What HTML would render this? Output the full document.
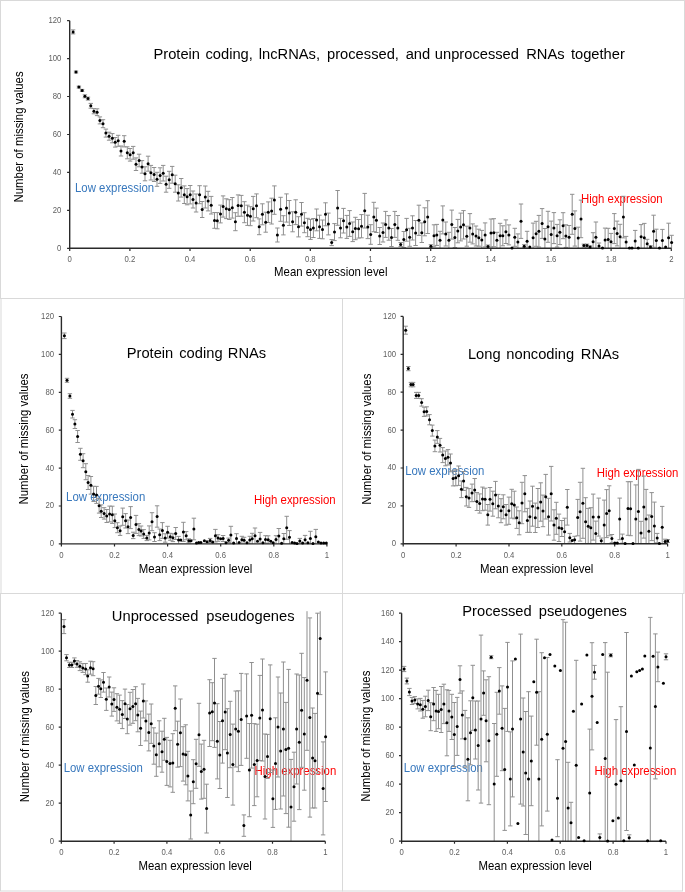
<!DOCTYPE html>
<html><head><meta charset="utf-8"><style>
html,body{margin:0;padding:0;background:#fff;width:685px;height:892px;overflow:hidden}
svg{display:block;font-family:'Liberation Sans', sans-serif;-webkit-font-smoothing:antialiased}
body{will-change:transform}
</style></head><body>
<svg width="685" height="892" viewBox="0 0 685 892">
<defs><filter id="bl" x="0" y="0" width="1" height="1"><feGaussianBlur stdDeviation="0.5"/></filter></defs>
<g filter="url(#bl)">
<rect width="685" height="892" fill="#fff"/>
<g fill="none" stroke="#d9d9d9" stroke-width="1">
<rect x="0.5" y="0.5" width="684" height="298" />
<rect x="1" y="298.5" width="341.5" height="295" />
<rect x="342.5" y="298.5" width="341.5" height="295" />
<rect x="0.5" y="593.5" width="342" height="297.5" />
<rect x="342.5" y="593.5" width="340" height="297.5" />
</g>
<text transform="translate(153.49,58.50) scale(1,1.04)" font-size="14.7" fill="#000" text-anchor="start" >Protein</text>
<text transform="translate(205.48,58.50) scale(1,1.04)" font-size="14.7" fill="#000" text-anchor="start" >coding,</text>
<text transform="translate(258.81,58.50) scale(1,1.04)" font-size="14.7" fill="#000" text-anchor="start" >lncRNAs,</text>
<text transform="translate(327.05,58.50) scale(1,1.04)" font-size="14.7" fill="#000" text-anchor="start" >processed,</text>
<text transform="translate(405.68,58.50) scale(1,1.04)" font-size="14.7" fill="#000" text-anchor="start" >and</text>
<text transform="translate(434.84,58.50) scale(1,1.04)" font-size="14.7" fill="#000" text-anchor="start" >unprocessed</text>
<text transform="translate(526.19,58.50) scale(1,1.04)" font-size="14.7" fill="#000" text-anchor="start" >RNAs</text>
<text transform="translate(570.88,58.50) scale(1,1.04)" font-size="14.7" fill="#000" text-anchor="start" >together</text>
<text transform="translate(74.97,192.10) scale(1,1.04)" font-size="11.4" fill="#3878bd" text-anchor="start" >Low expression</text>
<text transform="translate(580.97,202.80) scale(1,1.04)" font-size="11.4" fill="#ff0000" text-anchor="start" >High expression</text>
<text x="0" y="0" font-size="11.4" fill="#000" text-anchor="middle" transform="translate(23.2,136.9) rotate(-90) scale(1,1.04)">Number of missing values</text>
<text transform="translate(274.07,276.40) scale(1,1.04)" font-size="11.4" fill="#000" text-anchor="start" >Mean expression level</text>
<text transform="translate(61.4,250.7) scale(0.88,1)" font-size="8.8" fill="#606060" text-anchor="end">0</text>
<text transform="translate(61.4,212.8) scale(0.88,1)" font-size="8.8" fill="#606060" text-anchor="end">20</text>
<text transform="translate(61.4,174.8) scale(0.88,1)" font-size="8.8" fill="#606060" text-anchor="end">40</text>
<text transform="translate(61.4,136.9) scale(0.88,1)" font-size="8.8" fill="#606060" text-anchor="end">60</text>
<text transform="translate(61.4,98.9) scale(0.88,1)" font-size="8.8" fill="#606060" text-anchor="end">80</text>
<text transform="translate(61.4,61.0) scale(0.88,1)" font-size="8.8" fill="#606060" text-anchor="end">100</text>
<text transform="translate(61.4,23.1) scale(0.88,1)" font-size="8.8" fill="#606060" text-anchor="end">120</text>
<text transform="translate(69.7,262.3) scale(0.88,1)" font-size="8.8" fill="#606060" text-anchor="middle">0</text>
<text transform="translate(129.9,262.3) scale(0.88,1)" font-size="8.8" fill="#606060" text-anchor="middle">0.2</text>
<text transform="translate(190.0,262.3) scale(0.88,1)" font-size="8.8" fill="#606060" text-anchor="middle">0.4</text>
<text transform="translate(250.2,262.3) scale(0.88,1)" font-size="8.8" fill="#606060" text-anchor="middle">0.6</text>
<text transform="translate(310.3,262.3) scale(0.88,1)" font-size="8.8" fill="#606060" text-anchor="middle">0.8</text>
<text transform="translate(370.5,262.3) scale(0.88,1)" font-size="8.8" fill="#606060" text-anchor="middle">1</text>
<text transform="translate(430.7,262.3) scale(0.88,1)" font-size="8.8" fill="#606060" text-anchor="middle">1.2</text>
<text transform="translate(490.8,262.3) scale(0.88,1)" font-size="8.8" fill="#606060" text-anchor="middle">1.4</text>
<text transform="translate(551.0,262.3) scale(0.88,1)" font-size="8.8" fill="#606060" text-anchor="middle">1.6</text>
<text transform="translate(611.1,262.3) scale(0.88,1)" font-size="8.8" fill="#606060" text-anchor="middle">1.8</text>
<text transform="translate(671.3,262.3) scale(0.88,1)" font-size="8.8" fill="#606060" text-anchor="middle">2</text>
<path d="M73.1 29.9V33.9M70.9 29.9h4.4M70.9 33.9h4.4M76.0 71.0V73.0M73.8 71.0h4.4M73.8 73.0h4.4M78.9 86.1V88.1M76.7 86.1h4.4M76.7 88.1h4.4M82.1 89.4V91.4M79.9 89.4h4.4M79.9 91.4h4.4M84.9 94.8V97.8M82.7 94.8h4.4M82.7 97.8h4.4M88.0 97.1V100.1M85.8 97.1h4.4M85.8 100.1h4.4M90.8 103.4V108.2M88.6 103.4h4.4M88.6 108.2h4.4M93.9 108.6V113.8M91.7 108.6h4.4M91.7 113.8h4.4M97.1 108.8V115.6M94.9 108.8h4.4M94.9 115.6h4.4M99.9 116.9V123.9M97.7 116.9h4.4M97.7 123.9h4.4M103.0 119.7V127.7M100.8 119.7h4.4M100.8 127.7h4.4M105.9 129.1V137.1M103.7 129.1h4.4M103.7 137.1h4.4M109.1 132.2V140.2M106.9 132.2h4.4M106.9 140.2h4.4M112.3 133.6V142.8M110.1 133.6h4.4M110.1 142.8h4.4M115.2 137.5V147.1M113.0 137.5h4.4M113.0 147.1h4.4M118.2 135.3V146.3M116.0 135.3h4.4M116.0 146.3h4.4M121.0 146.0V156.0M118.8 146.0h4.4M118.8 156.0h4.4M124.2 135.7V146.9M122.0 135.7h4.4M122.0 146.9h4.4M127.3 146.8V158.8M125.1 146.8h4.4M125.1 158.8h4.4M130.1 148.5V161.1M127.9 148.5h4.4M127.9 161.1h4.4M133.2 146.4V159.2M131.0 146.4h4.4M131.0 159.2h4.4M136.0 157.9V170.5M133.8 157.9h4.4M133.8 170.5h4.4M139.1 154.2V166.8M136.9 154.2h4.4M136.9 166.8h4.4M142.0 160.6V173.2M139.8 160.6h4.4M139.8 173.2h4.4M145.0 166.8V180.8M142.8 166.8h4.4M142.8 180.8h4.4M148.1 156.2V171.2M145.9 156.2h4.4M145.9 171.2h4.4M150.9 165.4V180.0M148.7 165.4h4.4M148.7 180.0h4.4M154.1 167.5V181.5M151.9 167.5h4.4M151.9 181.5h4.4M157.0 172.3V186.3M154.8 172.3h4.4M154.8 186.3h4.4M160.1 167.8V183.4M157.9 167.8h4.4M157.9 183.4h4.4M163.2 165.4V181.0M161.0 165.4h4.4M161.0 181.0h4.4M166.1 176.2V192.2M163.9 176.2h4.4M163.9 192.2h4.4M169.2 171.3V188.3M167.0 171.3h4.4M167.0 188.3h4.4M172.2 166.4V183.2M170.0 166.4h4.4M170.0 183.2h4.4M175.2 175.2V192.2M173.0 175.2h4.4M173.0 192.2h4.4M178.3 184.8V201.0M176.1 184.8h4.4M176.1 201.0h4.4M181.2 178.5V197.1M179.0 178.5h4.4M179.0 197.1h4.4M184.3 185.9V203.5M182.1 185.9h4.4M182.1 203.5h4.4M187.1 188.6V204.8M184.9 188.6h4.4M184.9 204.8h4.4M190.2 185.5V203.9M188.0 185.5h4.4M188.0 203.9h4.4M193.0 191.0V208.0M190.8 191.0h4.4M190.8 208.0h4.4M196.1 194.0V212.0M193.9 194.0h4.4M193.9 212.0h4.4M199.6 185.7V203.7M197.4 185.7h4.4M197.4 203.7h4.4M202.2 201.5V217.5M200.0 201.5h4.4M200.0 217.5h4.4M205.3 186.0V208.0M203.1 186.0h4.4M203.1 208.0h4.4M208.1 191.3V210.9M205.9 191.3h4.4M205.9 210.9h4.4M211.2 196.4V214.0M209.0 196.4h4.4M209.0 214.0h4.4M214.5 212.5V228.3M212.3 212.5h4.4M212.3 228.3h4.4M217.3 212.6V228.8M215.1 212.6h4.4M215.1 228.8h4.4M220.5 205.1V222.9M218.3 205.1h4.4M218.3 222.9h4.4M223.1 195.9V217.1M220.9 195.9h4.4M220.9 217.1h4.4M226.3 198.8V218.6M224.1 198.8h4.4M224.1 218.6h4.4M229.3 199.7V219.5M227.1 199.7h4.4M227.1 219.5h4.4M232.3 197.5V218.1M230.1 197.5h4.4M230.1 218.1h4.4M235.4 212.7V230.7M233.2 212.7h4.4M233.2 230.7h4.4M238.1 194.9V216.3M235.9 194.9h4.4M235.9 216.3h4.4M241.3 195.4V216.2M239.1 195.4h4.4M239.1 216.2h4.4M244.4 201.7V222.7M242.2 201.7h4.4M242.2 222.7h4.4M247.5 205.2V225.4M245.3 205.2h4.4M245.3 225.4h4.4M250.4 206.7V225.7M248.2 206.7h4.4M248.2 225.7h4.4M253.2 196.4V221.0M251.0 196.4h4.4M251.0 221.0h4.4M256.5 193.9V217.7M254.3 193.9h4.4M254.3 217.7h4.4M259.2 218.9V234.7M257.0 218.9h4.4M257.0 234.7h4.4M262.4 203.8V224.8M260.2 203.8h4.4M260.2 224.8h4.4M265.7 212.2V232.2M263.5 212.2h4.4M263.5 232.2h4.4M268.3 201.9V222.5M266.1 201.9h4.4M266.1 222.5h4.4M271.6 198.2V224.0M269.4 198.2h4.4M269.4 224.0h4.4M274.4 185.9V214.3M272.2 185.9h4.4M272.2 214.3h4.4M277.4 228.0V242.0M275.2 228.0h4.4M275.2 242.0h4.4M280.6 197.3V221.3M278.4 197.3h4.4M278.4 221.3h4.4M283.4 215.7V234.9M281.2 215.7h4.4M281.2 234.9h4.4M286.5 193.9V222.1M284.3 193.9h4.4M284.3 222.1h4.4M289.3 200.5V225.5M287.1 200.5h4.4M287.1 225.5h4.4M292.6 211.8V231.8M290.4 211.8h4.4M290.4 231.8h4.4M295.7 199.8V224.6M293.5 199.8h4.4M293.5 224.6h4.4M298.5 216.7V236.9M296.3 216.7h4.4M296.3 236.9h4.4M301.5 202.5V226.1M299.3 202.5h4.4M299.3 226.1h4.4M304.4 212.7V232.7M302.2 212.7h4.4M302.2 232.7h4.4M307.6 218.3V236.7M305.4 218.3h4.4M305.4 236.7h4.4M310.5 219.4V239.4M308.3 219.4h4.4M308.3 239.4h4.4M313.4 218.5V237.5M311.2 218.5h4.4M311.2 237.5h4.4M316.6 209.0V230.8M314.4 209.0h4.4M314.4 230.8h4.4M319.5 215.2V238.4M317.3 215.2h4.4M317.3 238.4h4.4M322.5 220.0V238.8M320.3 220.0h4.4M320.3 238.8h4.4M325.5 202.8V225.8M323.3 202.8h4.4M323.3 225.8h4.4M328.4 213.1V234.9M326.2 213.1h4.4M326.2 234.9h4.4M331.7 239.6V245.6M329.5 239.6h4.4M329.5 245.6h4.4M334.5 223.6V240.6M332.3 223.6h4.4M332.3 240.6h4.4M337.6 190.5V225.3M335.4 190.5h4.4M335.4 225.3h4.4M340.5 218.4V237.8M338.3 218.4h4.4M338.3 237.8h4.4M343.5 208.4V233.0M341.3 208.4h4.4M341.3 233.0h4.4M346.8 215.4V238.4M344.6 215.4h4.4M344.6 238.4h4.4M349.6 210.6V236.4M347.4 210.6h4.4M347.4 236.4h4.4M352.7 222.0V241.6M350.5 222.0h4.4M350.5 241.6h4.4M355.4 217.3V239.7M353.2 217.3h4.4M353.2 239.7h4.4M358.6 219.5V238.1M356.4 219.5h4.4M356.4 238.1h4.4M361.5 214.6V237.8M359.3 214.6h4.4M359.3 237.8h4.4M364.7 193.4V228.0M362.5 193.4h4.4M362.5 228.0h4.4M367.8 215.2V238.6M365.6 215.2h4.4M365.6 238.6h4.4M370.7 224.7V244.3M368.5 224.7h4.4M368.5 244.3h4.4M373.8 202.3V231.7M371.6 202.3h4.4M371.6 231.7h4.4M376.4 208.1V232.5M374.2 208.1h4.4M374.2 232.5h4.4M379.7 227.5V244.5M377.5 227.5h4.4M377.5 244.5h4.4M383.0 223.0V242.0M380.8 223.0h4.4M380.8 242.0h4.4M385.6 211.4V237.4M383.4 211.4h4.4M383.4 237.4h4.4M388.8 215.6V240.2M386.6 215.6h4.4M386.6 240.2h4.4M391.5 228.5V246.5M389.3 228.5h4.4M389.3 246.5h4.4M394.8 211.4V237.4M392.6 211.4h4.4M392.6 237.4h4.4M397.8 215.5V240.3M395.6 215.5h4.4M395.6 240.3h4.4M400.7 242.5V246.5M398.5 242.5h4.4M398.5 246.5h4.4M403.8 231.5V247.5M401.6 231.5h4.4M401.6 247.5h4.4M406.6 218.4V241.2M404.4 218.4h4.4M404.4 241.2h4.4M409.7 228.3V246.3M407.5 228.3h4.4M407.5 246.3h4.4M412.5 215.8V240.0M410.3 215.8h4.4M410.3 240.0h4.4M415.6 220.5V245.5M413.4 220.5h4.4M413.4 245.5h4.4M418.9 205.2V235.4M416.7 205.2h4.4M416.7 235.4h4.4M421.8 222.9V242.5M419.6 222.9h4.4M419.6 242.5h4.4M424.7 207.8V235.8M422.5 207.8h4.4M422.5 235.8h4.4M427.7 200.7V233.5M425.5 200.7h4.4M425.5 233.5h4.4M430.9 244.7V247.7M428.7 244.7h4.4M428.7 247.7h4.4M434.0 224.8V246.8M431.8 224.8h4.4M431.8 246.8h4.4M436.8 224.4V245.4M434.6 224.4h4.4M434.6 245.4h4.4M440.0 231.3V248.3M437.8 231.3h4.4M442.8 205.9V233.9M440.6 205.9h4.4M440.6 233.9h4.4M445.8 222.0V246.0M443.6 222.0h4.4M443.6 246.0h4.4M448.9 232.3V248.3M446.7 232.3h4.4M451.8 210.1V239.1M449.6 210.1h4.4M449.6 239.1h4.4M454.9 227.5V247.5M452.7 227.5h4.4M452.7 247.5h4.4M457.8 219.4V242.8M455.6 219.4h4.4M455.6 242.8h4.4M460.7 213.1V240.9M458.5 213.1h4.4M458.5 240.9h4.4M463.5 210.6V239.0M461.3 210.6h4.4M461.3 239.0h4.4M466.8 226.2V246.2M464.6 226.2h4.4M464.6 246.2h4.4M469.9 213.6V242.2M467.7 213.6h4.4M467.7 242.2h4.4M472.7 223.9V243.9M470.5 223.9h4.4M470.5 243.9h4.4M476.0 226.0V246.0M473.8 226.0h4.4M473.8 246.0h4.4M478.8 229.2V246.2M476.6 229.2h4.4M476.6 246.2h4.4M481.8 230.4V248.3M479.6 230.4h4.4M485.1 222.9V246.9M482.9 222.9h4.4M482.9 246.9h4.4M488.0 245.0V248.0M485.8 245.0h4.4M491.0 219.0V247.0M488.8 219.0h4.4M488.8 247.0h4.4M493.8 218.7V246.7M491.6 218.7h4.4M491.6 246.7h4.4M496.9 232.3V248.3M494.7 232.3h4.4M500.1 223.3V248.3M497.9 223.3h4.4M502.8 225.8V245.8M500.6 225.8h4.4M500.6 245.8h4.4M505.9 219.9V243.5M503.7 219.9h4.4M503.7 243.5h4.4M508.9 224.9V244.9M506.7 224.9h4.4M506.7 244.9h4.4M514.8 228.3V246.3M512.6 228.3h4.4M512.6 246.3h4.4M517.9 233.9V248.3M515.7 233.9h4.4M521.0 204.0V238.4M518.8 204.0h4.4M518.8 238.4h4.4M524.2 244.7V247.7M522.0 244.7h4.4M522.0 247.7h4.4M527.1 231.3V248.3M524.9 231.3h4.4M533.1 223.1V248.3M530.9 223.1h4.4M536.1 221.3V246.3M533.9 221.3h4.4M533.9 246.3h4.4M538.9 215.4V247.0M536.7 215.4h4.4M536.7 247.0h4.4M542.1 208.6V238.4M539.9 208.6h4.4M539.9 238.4h4.4M544.9 228.5V248.3M542.7 228.5h4.4M548.0 211.3V242.3M545.8 211.3h4.4M545.8 242.3h4.4M551.2 221.1V247.9M549.0 221.1h4.4M553.9 212.6V243.6M551.7 212.6h4.4M551.7 243.6h4.4M557.1 224.4V247.0M554.9 224.4h4.4M554.9 247.0h4.4M559.9 219.8V244.6M557.7 219.8h4.4M557.7 244.6h4.4M563.1 212.7V238.7M560.9 212.7h4.4M560.9 238.7h4.4M565.9 224.8V247.4M563.7 224.8h4.4M563.7 247.4h4.4M569.1 225.5V248.3M566.9 225.5h4.4M572.2 194.3V234.3M570.0 194.3h4.4M570.0 234.3h4.4M574.9 210.9V246.1M572.7 210.9h4.4M572.7 246.1h4.4M578.2 227.2V248.3M576.0 227.2h4.4M581.0 200.1V237.7M578.8 200.1h4.4M578.8 237.7h4.4M583.9 244.1V247.1M581.7 244.1h4.4M581.7 247.1h4.4M587.0 244.1V247.1M584.8 244.1h4.4M584.8 247.1h4.4M590.1 245.9V247.9M587.9 245.9h4.4M593.1 232.7V248.3M590.9 232.7h4.4M595.9 222.0V248.3M593.7 222.0h4.4M599.0 243.0V248.3M596.8 243.0h4.4M605.1 228.1V248.3M602.9 228.1h4.4M608.2 228.3V248.3M606.0 228.3h4.4M611.0 233.4V248.3M608.8 233.4h4.4M614.3 213.6V243.6M612.1 213.6h4.4M612.1 243.6h4.4M617.1 221.1V245.9M614.9 221.1h4.4M614.9 245.9h4.4M620.1 224.3V248.3M617.9 224.3h4.4M623.4 196.3V237.9M621.2 196.3h4.4M621.2 237.9h4.4M626.1 236.4V247.8M623.9 236.4h4.4M635.2 230.4V248.3M633.0 230.4h4.4M641.1 224.6V248.3M638.9 224.6h4.4M644.3 223.4V248.3M642.1 223.4h4.4M647.2 239.3V248.1M645.0 239.3h4.4M650.5 245.7V248.3M648.3 245.7h4.4M653.6 215.2V247.2M651.4 215.2h4.4M651.4 247.2h4.4M656.3 229.2V248.3M654.1 229.2h4.4M662.4 229.4V248.3M660.2 229.4h4.4M668.6 223.2V248.3M666.4 223.2h4.4M671.6 235.3V248.3M669.4 235.3h4.4" stroke="#8f8f8f" stroke-width="1" fill="none"/>
<path d="M69.7 20.7V248.3H671.3" stroke="#2b2b2b" stroke-width="1.4" fill="none"/>
<path d="M67.1 248.3H69.7M67.1 210.4H69.7M67.1 172.4H69.7M67.1 134.5H69.7M67.1 96.5H69.7M67.1 58.6H69.7M67.1 20.7H69.7M69.7 248.3V250.9M129.9 248.3V250.9M190.0 248.3V250.9M250.2 248.3V250.9M310.3 248.3V250.9M370.5 248.3V250.9M430.7 248.3V250.9M490.8 248.3V250.9M551.0 248.3V250.9M611.1 248.3V250.9M671.3 248.3V250.9" stroke="#2b2b2b" stroke-width="1.2" fill="none"/>
<g fill="#000"><circle cx="73.1" cy="31.9" r="1.5"/><circle cx="76.0" cy="72.0" r="1.5"/><circle cx="78.9" cy="87.1" r="1.5"/><circle cx="82.1" cy="90.4" r="1.5"/><circle cx="84.9" cy="96.3" r="1.5"/><circle cx="88.0" cy="98.6" r="1.5"/><circle cx="90.8" cy="105.8" r="1.5"/><circle cx="93.9" cy="111.2" r="1.5"/><circle cx="97.1" cy="112.2" r="1.5"/><circle cx="99.9" cy="120.4" r="1.5"/><circle cx="103.0" cy="123.7" r="1.5"/><circle cx="105.9" cy="133.1" r="1.5"/><circle cx="109.1" cy="136.2" r="1.5"/><circle cx="112.3" cy="138.2" r="1.5"/><circle cx="115.2" cy="142.3" r="1.5"/><circle cx="118.2" cy="140.8" r="1.5"/><circle cx="121.0" cy="151.0" r="1.5"/><circle cx="124.2" cy="141.3" r="1.5"/><circle cx="127.3" cy="152.8" r="1.5"/><circle cx="130.1" cy="154.8" r="1.5"/><circle cx="133.2" cy="152.8" r="1.5"/><circle cx="136.0" cy="164.2" r="1.5"/><circle cx="139.1" cy="160.5" r="1.5"/><circle cx="142.0" cy="166.9" r="1.5"/><circle cx="145.0" cy="173.8" r="1.5"/><circle cx="148.1" cy="163.7" r="1.5"/><circle cx="150.9" cy="172.7" r="1.5"/><circle cx="154.1" cy="174.5" r="1.5"/><circle cx="157.0" cy="179.3" r="1.5"/><circle cx="160.1" cy="175.6" r="1.5"/><circle cx="163.2" cy="173.2" r="1.5"/><circle cx="166.1" cy="184.2" r="1.5"/><circle cx="169.2" cy="179.8" r="1.5"/><circle cx="172.2" cy="174.8" r="1.5"/><circle cx="175.2" cy="183.7" r="1.5"/><circle cx="178.3" cy="192.9" r="1.5"/><circle cx="181.2" cy="187.8" r="1.5"/><circle cx="184.3" cy="194.7" r="1.5"/><circle cx="187.1" cy="196.7" r="1.5"/><circle cx="190.2" cy="194.7" r="1.5"/><circle cx="193.0" cy="199.5" r="1.5"/><circle cx="196.1" cy="203.0" r="1.5"/><circle cx="199.6" cy="194.7" r="1.5"/><circle cx="202.2" cy="209.5" r="1.5"/><circle cx="205.3" cy="197.0" r="1.5"/><circle cx="208.1" cy="201.1" r="1.5"/><circle cx="211.2" cy="205.2" r="1.5"/><circle cx="214.5" cy="220.4" r="1.5"/><circle cx="217.3" cy="220.7" r="1.5"/><circle cx="220.5" cy="214.0" r="1.5"/><circle cx="223.1" cy="206.5" r="1.5"/><circle cx="226.3" cy="208.7" r="1.5"/><circle cx="229.3" cy="209.6" r="1.5"/><circle cx="232.3" cy="207.8" r="1.5"/><circle cx="235.4" cy="221.7" r="1.5"/><circle cx="238.1" cy="205.6" r="1.5"/><circle cx="241.3" cy="205.8" r="1.5"/><circle cx="244.4" cy="212.2" r="1.5"/><circle cx="247.5" cy="215.3" r="1.5"/><circle cx="250.4" cy="216.2" r="1.5"/><circle cx="253.2" cy="208.7" r="1.5"/><circle cx="256.5" cy="205.8" r="1.5"/><circle cx="259.2" cy="226.8" r="1.5"/><circle cx="262.4" cy="214.3" r="1.5"/><circle cx="265.7" cy="222.2" r="1.5"/><circle cx="268.3" cy="212.2" r="1.5"/><circle cx="271.6" cy="211.1" r="1.5"/><circle cx="274.4" cy="200.1" r="1.5"/><circle cx="277.4" cy="235.0" r="1.5"/><circle cx="280.6" cy="209.3" r="1.5"/><circle cx="283.4" cy="225.3" r="1.5"/><circle cx="286.5" cy="208.0" r="1.5"/><circle cx="289.3" cy="213.0" r="1.5"/><circle cx="292.6" cy="221.8" r="1.5"/><circle cx="295.7" cy="212.2" r="1.5"/><circle cx="298.5" cy="226.8" r="1.5"/><circle cx="301.5" cy="214.3" r="1.5"/><circle cx="304.4" cy="222.7" r="1.5"/><circle cx="307.6" cy="227.5" r="1.5"/><circle cx="310.5" cy="229.4" r="1.5"/><circle cx="313.4" cy="228.0" r="1.5"/><circle cx="316.6" cy="219.9" r="1.5"/><circle cx="319.5" cy="226.8" r="1.5"/><circle cx="322.5" cy="229.4" r="1.5"/><circle cx="325.5" cy="214.3" r="1.5"/><circle cx="328.4" cy="224.0" r="1.5"/><circle cx="331.7" cy="242.6" r="1.5"/><circle cx="334.5" cy="232.1" r="1.5"/><circle cx="337.6" cy="207.9" r="1.5"/><circle cx="340.5" cy="228.1" r="1.5"/><circle cx="343.5" cy="220.7" r="1.5"/><circle cx="346.8" cy="226.9" r="1.5"/><circle cx="349.6" cy="223.5" r="1.5"/><circle cx="352.7" cy="231.8" r="1.5"/><circle cx="355.4" cy="228.5" r="1.5"/><circle cx="358.6" cy="228.8" r="1.5"/><circle cx="361.5" cy="226.2" r="1.5"/><circle cx="364.7" cy="210.7" r="1.5"/><circle cx="367.8" cy="226.9" r="1.5"/><circle cx="370.7" cy="234.5" r="1.5"/><circle cx="373.8" cy="217.0" r="1.5"/><circle cx="376.4" cy="220.3" r="1.5"/><circle cx="379.7" cy="236.0" r="1.5"/><circle cx="383.0" cy="232.5" r="1.5"/><circle cx="385.6" cy="224.4" r="1.5"/><circle cx="388.8" cy="227.9" r="1.5"/><circle cx="391.5" cy="237.5" r="1.5"/><circle cx="394.8" cy="224.4" r="1.5"/><circle cx="397.8" cy="227.9" r="1.5"/><circle cx="400.7" cy="244.5" r="1.5"/><circle cx="403.8" cy="239.5" r="1.5"/><circle cx="406.6" cy="229.8" r="1.5"/><circle cx="409.7" cy="237.3" r="1.5"/><circle cx="412.5" cy="227.9" r="1.5"/><circle cx="415.6" cy="233.0" r="1.5"/><circle cx="418.9" cy="220.3" r="1.5"/><circle cx="421.8" cy="232.7" r="1.5"/><circle cx="424.7" cy="221.8" r="1.5"/><circle cx="427.7" cy="217.1" r="1.5"/><circle cx="430.9" cy="246.2" r="1.5"/><circle cx="434.0" cy="235.8" r="1.5"/><circle cx="436.8" cy="234.9" r="1.5"/><circle cx="440.0" cy="240.3" r="1.5"/><circle cx="442.8" cy="219.9" r="1.5"/><circle cx="445.8" cy="234.0" r="1.5"/><circle cx="448.9" cy="240.3" r="1.5"/><circle cx="451.8" cy="224.6" r="1.5"/><circle cx="454.9" cy="237.5" r="1.5"/><circle cx="457.8" cy="231.1" r="1.5"/><circle cx="460.7" cy="227.0" r="1.5"/><circle cx="463.5" cy="224.8" r="1.5"/><circle cx="466.8" cy="236.2" r="1.5"/><circle cx="469.9" cy="227.9" r="1.5"/><circle cx="472.7" cy="233.9" r="1.5"/><circle cx="476.0" cy="236.0" r="1.5"/><circle cx="478.8" cy="237.7" r="1.5"/><circle cx="481.8" cy="239.9" r="1.5"/><circle cx="485.1" cy="234.9" r="1.5"/><circle cx="488.0" cy="246.5" r="1.5"/><circle cx="491.0" cy="233.0" r="1.5"/><circle cx="493.8" cy="232.7" r="1.5"/><circle cx="496.9" cy="240.3" r="1.5"/><circle cx="500.1" cy="235.8" r="1.5"/><circle cx="502.8" cy="235.8" r="1.5"/><circle cx="505.9" cy="231.7" r="1.5"/><circle cx="508.9" cy="234.9" r="1.5"/><circle cx="512.0" cy="247.9" r="1.5"/><circle cx="514.8" cy="237.3" r="1.5"/><circle cx="517.9" cy="241.9" r="1.5"/><circle cx="521.0" cy="221.2" r="1.5"/><circle cx="524.2" cy="246.2" r="1.5"/><circle cx="527.1" cy="241.3" r="1.5"/><circle cx="529.8" cy="247.0" r="1.5"/><circle cx="533.1" cy="237.7" r="1.5"/><circle cx="536.1" cy="233.8" r="1.5"/><circle cx="538.9" cy="231.2" r="1.5"/><circle cx="542.1" cy="223.5" r="1.5"/><circle cx="544.9" cy="239.0" r="1.5"/><circle cx="548.0" cy="226.8" r="1.5"/><circle cx="551.2" cy="234.5" r="1.5"/><circle cx="553.9" cy="228.1" r="1.5"/><circle cx="557.1" cy="235.7" r="1.5"/><circle cx="559.9" cy="232.2" r="1.5"/><circle cx="563.1" cy="225.7" r="1.5"/><circle cx="565.9" cy="236.1" r="1.5"/><circle cx="569.1" cy="237.3" r="1.5"/><circle cx="572.2" cy="214.3" r="1.5"/><circle cx="574.9" cy="228.5" r="1.5"/><circle cx="578.2" cy="238.0" r="1.5"/><circle cx="581.0" cy="218.9" r="1.5"/><circle cx="583.9" cy="245.6" r="1.5"/><circle cx="587.0" cy="245.6" r="1.5"/><circle cx="590.1" cy="246.9" r="1.5"/><circle cx="593.1" cy="241.7" r="1.5"/><circle cx="595.9" cy="237.3" r="1.5"/><circle cx="599.0" cy="246.0" r="1.5"/><circle cx="602.5" cy="248.0" r="1.5"/><circle cx="605.1" cy="239.9" r="1.5"/><circle cx="608.2" cy="239.5" r="1.5"/><circle cx="611.0" cy="241.7" r="1.5"/><circle cx="614.3" cy="228.6" r="1.5"/><circle cx="617.1" cy="233.5" r="1.5"/><circle cx="620.1" cy="236.8" r="1.5"/><circle cx="623.4" cy="217.1" r="1.5"/><circle cx="626.1" cy="242.1" r="1.5"/><circle cx="629.5" cy="248.0" r="1.5"/><circle cx="632.0" cy="248.0" r="1.5"/><circle cx="635.2" cy="240.9" r="1.5"/><circle cx="638.3" cy="248.0" r="1.5"/><circle cx="641.1" cy="236.8" r="1.5"/><circle cx="644.3" cy="237.7" r="1.5"/><circle cx="647.2" cy="243.7" r="1.5"/><circle cx="650.5" cy="247.1" r="1.5"/><circle cx="653.6" cy="231.2" r="1.5"/><circle cx="656.3" cy="240.4" r="1.5"/><circle cx="659.5" cy="248.1" r="1.5"/><circle cx="662.4" cy="240.4" r="1.5"/><circle cx="665.6" cy="247.1" r="1.5"/><circle cx="668.6" cy="237.7" r="1.5"/><circle cx="671.6" cy="242.6" r="1.5"/></g>
<text transform="translate(126.69,357.60) scale(1,1.04)" font-size="14.7" fill="#000" text-anchor="start" >Protein</text>
<text transform="translate(179.28,357.60) scale(1,1.04)" font-size="14.7" fill="#000" text-anchor="start" >coding</text>
<text transform="translate(227.79,357.60) scale(1,1.04)" font-size="14.7" fill="#000" text-anchor="start" >RNAs</text>
<text transform="translate(66.07,500.90) scale(1,1.04)" font-size="11.4" fill="#3878bd" text-anchor="start" >Low expression</text>
<text transform="translate(253.97,504.10) scale(1,1.04)" font-size="11.4" fill="#ff0000" text-anchor="start" >High expression</text>
<text x="0" y="0" font-size="11.4" fill="#000" text-anchor="middle" transform="translate(28.4,439.0) rotate(-90) scale(1,1.04)">Number of missing values</text>
<text transform="translate(138.87,573.00) scale(1,1.04)" font-size="11.4" fill="#000" text-anchor="start" >Mean expression level</text>
<text transform="translate(54.0,546.3) scale(0.88,1)" font-size="8.8" fill="#606060" text-anchor="end">0</text>
<text transform="translate(54.0,508.4) scale(0.88,1)" font-size="8.8" fill="#606060" text-anchor="end">20</text>
<text transform="translate(54.0,470.5) scale(0.88,1)" font-size="8.8" fill="#606060" text-anchor="end">40</text>
<text transform="translate(54.0,432.6) scale(0.88,1)" font-size="8.8" fill="#606060" text-anchor="end">60</text>
<text transform="translate(54.0,394.7) scale(0.88,1)" font-size="8.8" fill="#606060" text-anchor="end">80</text>
<text transform="translate(54.0,356.8) scale(0.88,1)" font-size="8.8" fill="#606060" text-anchor="end">100</text>
<text transform="translate(54.0,318.9) scale(0.88,1)" font-size="8.8" fill="#606060" text-anchor="end">120</text>
<text transform="translate(61.4,557.8) scale(0.88,1)" font-size="8.8" fill="#606060" text-anchor="middle">0</text>
<text transform="translate(114.5,557.8) scale(0.88,1)" font-size="8.8" fill="#606060" text-anchor="middle">0.2</text>
<text transform="translate(167.6,557.8) scale(0.88,1)" font-size="8.8" fill="#606060" text-anchor="middle">0.4</text>
<text transform="translate(220.7,557.8) scale(0.88,1)" font-size="8.8" fill="#606060" text-anchor="middle">0.6</text>
<text transform="translate(273.8,557.8) scale(0.88,1)" font-size="8.8" fill="#606060" text-anchor="middle">0.8</text>
<text transform="translate(326.9,557.8) scale(0.88,1)" font-size="8.8" fill="#606060" text-anchor="middle">1</text>
<path d="M64.4 333.0V338.6M62.2 333.0h4.4M62.2 338.6h4.4M67.0 378.3V382.3M64.8 378.3h4.4M64.8 382.3h4.4M69.9 393.7V398.3M67.7 393.7h4.4M67.7 398.3h4.4M72.5 410.4V418.0M70.3 410.4h4.4M70.3 418.0h4.4M74.9 419.7V428.5M72.7 419.7h4.4M72.7 428.5h4.4M77.6 430.5V442.5M75.4 430.5h4.4M75.4 442.5h4.4M80.4 448.3V460.3M78.2 448.3h4.4M78.2 460.3h4.4M83.1 453.7V467.7M80.9 453.7h4.4M80.9 467.7h4.4M85.8 463.7V479.7M83.6 463.7h4.4M83.6 479.7h4.4M88.1 475.5V489.5M85.9 475.5h4.4M85.9 489.5h4.4M90.9 476.5V494.1M88.7 476.5h4.4M88.7 494.1h4.4M93.6 486.3V501.5M91.4 486.3h4.4M91.4 501.5h4.4M96.5 486.4V503.4M94.3 486.4h4.4M94.3 503.4h4.4M99.1 498.3V513.1M96.9 498.3h4.4M96.9 513.1h4.4M101.2 504.9V517.5M99.0 504.9h4.4M99.0 517.5h4.4M104.1 507.7V519.1M101.9 507.7h4.4M101.9 519.1h4.4M106.7 509.5V522.5M104.5 509.5h4.4M104.5 522.5h4.4M109.6 506.1V521.9M107.4 506.1h4.4M107.4 521.9h4.4M112.3 506.2V523.4M110.1 506.2h4.4M110.1 523.4h4.4M114.8 514.0V527.6M112.6 514.0h4.4M112.6 527.6h4.4M117.4 522.7V532.7M115.2 522.7h4.4M115.2 532.7h4.4M120.1 526.0V535.4M117.9 526.0h4.4M117.9 535.4h4.4M122.7 508.1V525.3M120.5 508.1h4.4M120.5 525.3h4.4M125.6 513.6V528.0M123.4 513.6h4.4M123.4 528.0h4.4M128.0 520.0V533.6M125.8 520.0h4.4M125.8 533.6h4.4M130.6 506.6V528.6M128.4 506.6h4.4M128.4 528.6h4.4M133.2 532.2V538.6M131.0 532.2h4.4M131.0 538.6h4.4M136.0 515.4V533.4M133.8 515.4h4.4M133.8 533.4h4.4M138.9 523.6V535.6M136.7 523.6h4.4M136.7 535.6h4.4M141.1 526.0V536.0M138.9 526.0h4.4M138.9 536.0h4.4M143.7 529.6V538.4M141.5 529.6h4.4M141.5 538.4h4.4M146.8 535.4V540.6M144.6 535.4h4.4M144.6 540.6h4.4M149.2 525.9V539.9M147.0 525.9h4.4M147.0 539.9h4.4M152.0 512.7V530.7M149.8 512.7h4.4M149.8 530.7h4.4M154.5 532.7V541.5M152.3 532.7h4.4M152.3 541.5h4.4M157.1 505.8V527.2M154.9 505.8h4.4M154.9 527.2h4.4M159.7 529.0V540.6M157.5 529.0h4.4M157.5 540.6h4.4M162.4 522.6V538.4M160.2 522.6h4.4M160.2 538.4h4.4M165.2 533.8V542.2M163.0 533.8h4.4M163.0 542.2h4.4M167.6 526.3V538.1M165.4 526.3h4.4M165.4 538.1h4.4M170.3 533.3V540.3M168.1 533.3h4.4M168.1 540.3h4.4M172.9 533.8V541.6M170.7 533.8h4.4M170.7 541.6h4.4M175.7 527.5V539.5M173.5 527.5h4.4M173.5 539.5h4.4M178.6 536.4V543.4M176.4 536.4h4.4M183.4 522.3V541.5M181.2 522.3h4.4M181.2 541.5h4.4M186.2 531.6V539.8M184.0 531.6h4.4M184.0 539.8h4.4M188.8 538.8V542.8M186.6 538.8h4.4M186.6 542.8h4.4M193.9 518.2V539.8M191.7 518.2h4.4M191.7 539.8h4.4M210.1 538.4V542.4M207.9 538.4h4.4M207.9 542.4h4.4M215.4 529.4V542.0M213.2 529.4h4.4M213.2 542.0h4.4M218.0 534.7V541.3M215.8 534.7h4.4M215.8 541.3h4.4M223.1 535.5V541.5M220.9 535.5h4.4M220.9 541.5h4.4M228.6 538.1V542.5M226.4 538.1h4.4M226.4 542.5h4.4M230.9 526.3V543.5M228.7 526.3h4.4M236.5 533.7V543.3M234.3 533.7h4.4M241.9 536.3V543.3M239.7 536.3h4.4M244.1 537.3V543.3M241.9 537.3h4.4M249.8 536.3V543.9M247.6 536.3h4.4M252.2 533.3V543.9M250.0 533.3h4.4M255.0 528.0V543.4M252.8 528.0h4.4M260.1 532.4V543.9M257.9 532.4h4.4M265.5 535.7V543.1M263.3 535.7h4.4M263.3 543.1h4.4M268.2 535.8V543.8M266.0 535.8h4.4M276.0 535.7V543.5M273.8 535.7h4.4M278.8 528.5V543.7M276.6 528.5h4.4M283.8 533.5V543.9M281.6 533.5h4.4M286.7 516.3V539.3M284.5 516.3h4.4M284.5 539.3h4.4M289.5 530.6V543.8M287.3 530.6h4.4M299.8 538.4V543.6M297.6 538.4h4.4M305.1 535.4V543.9M302.9 535.4h4.4M310.4 531.3V543.9M308.2 531.3h4.4M315.8 529.4V543.9M313.6 529.4h4.4" stroke="#8f8f8f" stroke-width="1" fill="none"/>
<path d="M61.4 316.5V543.9H326.9" stroke="#2b2b2b" stroke-width="1.4" fill="none"/>
<path d="M58.8 543.9H61.4M58.8 506.0H61.4M58.8 468.1H61.4M58.8 430.2H61.4M58.8 392.3H61.4M58.8 354.4H61.4M58.8 316.5H61.4M61.4 543.9V546.5M114.5 543.9V546.5M167.6 543.9V546.5M220.7 543.9V546.5M273.8 543.9V546.5M326.9 543.9V546.5" stroke="#2b2b2b" stroke-width="1.2" fill="none"/>
<g fill="#000"><circle cx="64.4" cy="335.8" r="1.5"/><circle cx="67.0" cy="380.3" r="1.5"/><circle cx="69.9" cy="396.0" r="1.5"/><circle cx="72.5" cy="414.2" r="1.5"/><circle cx="74.9" cy="424.1" r="1.5"/><circle cx="77.6" cy="436.5" r="1.5"/><circle cx="80.4" cy="454.3" r="1.5"/><circle cx="83.1" cy="460.7" r="1.5"/><circle cx="85.8" cy="471.7" r="1.5"/><circle cx="88.1" cy="482.5" r="1.5"/><circle cx="90.9" cy="485.3" r="1.5"/><circle cx="93.6" cy="493.9" r="1.5"/><circle cx="96.5" cy="494.9" r="1.5"/><circle cx="99.1" cy="505.7" r="1.5"/><circle cx="101.2" cy="511.2" r="1.5"/><circle cx="104.1" cy="513.4" r="1.5"/><circle cx="106.7" cy="516.0" r="1.5"/><circle cx="109.6" cy="514.0" r="1.5"/><circle cx="112.3" cy="514.8" r="1.5"/><circle cx="114.8" cy="520.8" r="1.5"/><circle cx="117.4" cy="527.7" r="1.5"/><circle cx="120.1" cy="530.7" r="1.5"/><circle cx="122.7" cy="516.7" r="1.5"/><circle cx="125.6" cy="520.8" r="1.5"/><circle cx="128.0" cy="526.8" r="1.5"/><circle cx="130.6" cy="517.6" r="1.5"/><circle cx="133.2" cy="535.4" r="1.5"/><circle cx="136.0" cy="524.4" r="1.5"/><circle cx="138.9" cy="529.6" r="1.5"/><circle cx="141.1" cy="531.0" r="1.5"/><circle cx="143.7" cy="534.0" r="1.5"/><circle cx="146.8" cy="538.0" r="1.5"/><circle cx="149.2" cy="532.9" r="1.5"/><circle cx="152.0" cy="521.7" r="1.5"/><circle cx="154.5" cy="537.1" r="1.5"/><circle cx="157.1" cy="516.5" r="1.5"/><circle cx="159.7" cy="534.8" r="1.5"/><circle cx="162.4" cy="530.5" r="1.5"/><circle cx="165.2" cy="538.0" r="1.5"/><circle cx="167.6" cy="532.2" r="1.5"/><circle cx="170.3" cy="536.8" r="1.5"/><circle cx="172.9" cy="537.7" r="1.5"/><circle cx="175.7" cy="533.5" r="1.5"/><circle cx="178.6" cy="539.9" r="1.5"/><circle cx="180.8" cy="539.9" r="1.5"/><circle cx="183.4" cy="531.9" r="1.5"/><circle cx="186.2" cy="535.7" r="1.5"/><circle cx="188.8" cy="540.8" r="1.5"/><circle cx="191.0" cy="540.8" r="1.5"/><circle cx="193.9" cy="529.0" r="1.5"/><circle cx="196.5" cy="543.0" r="1.5"/><circle cx="198.7" cy="542.5" r="1.5"/><circle cx="200.9" cy="542.5" r="1.5"/><circle cx="204.4" cy="540.8" r="1.5"/><circle cx="207.0" cy="541.7" r="1.5"/><circle cx="210.1" cy="540.4" r="1.5"/><circle cx="212.7" cy="542.1" r="1.5"/><circle cx="215.4" cy="535.7" r="1.5"/><circle cx="218.0" cy="538.0" r="1.5"/><circle cx="220.6" cy="538.8" r="1.5"/><circle cx="223.1" cy="538.5" r="1.5"/><circle cx="226.0" cy="542.7" r="1.5"/><circle cx="228.6" cy="540.3" r="1.5"/><circle cx="230.9" cy="534.9" r="1.5"/><circle cx="233.6" cy="543.1" r="1.5"/><circle cx="236.5" cy="538.5" r="1.5"/><circle cx="239.1" cy="542.6" r="1.5"/><circle cx="241.9" cy="539.8" r="1.5"/><circle cx="244.1" cy="540.3" r="1.5"/><circle cx="247.0" cy="542.7" r="1.5"/><circle cx="249.8" cy="540.1" r="1.5"/><circle cx="252.2" cy="538.7" r="1.5"/><circle cx="255.0" cy="535.7" r="1.5"/><circle cx="257.5" cy="541.2" r="1.5"/><circle cx="260.1" cy="539.0" r="1.5"/><circle cx="262.9" cy="542.7" r="1.5"/><circle cx="265.5" cy="539.4" r="1.5"/><circle cx="268.2" cy="539.8" r="1.5"/><circle cx="270.8" cy="541.2" r="1.5"/><circle cx="273.2" cy="542.8" r="1.5"/><circle cx="276.0" cy="539.6" r="1.5"/><circle cx="278.8" cy="536.1" r="1.5"/><circle cx="281.6" cy="543.3" r="1.5"/><circle cx="283.8" cy="538.8" r="1.5"/><circle cx="286.7" cy="527.8" r="1.5"/><circle cx="289.5" cy="537.2" r="1.5"/><circle cx="292.1" cy="542.5" r="1.5"/><circle cx="294.6" cy="543.1" r="1.5"/><circle cx="297.0" cy="543.6" r="1.5"/><circle cx="299.8" cy="541.0" r="1.5"/><circle cx="302.6" cy="543.1" r="1.5"/><circle cx="305.1" cy="539.8" r="1.5"/><circle cx="307.9" cy="542.7" r="1.5"/><circle cx="310.4" cy="538.5" r="1.5"/><circle cx="313.0" cy="543.5" r="1.5"/><circle cx="315.8" cy="536.8" r="1.5"/><circle cx="318.4" cy="542.0" r="1.5"/><circle cx="321.0" cy="543.1" r="1.5"/><circle cx="323.7" cy="542.9" r="1.5"/><circle cx="326.3" cy="543.1" r="1.5"/></g>
<text transform="translate(467.89,358.60) scale(1,1.04)" font-size="14.7" fill="#000" text-anchor="start" >Long</text>
<text transform="translate(506.32,358.60) scale(1,1.04)" font-size="14.7" fill="#000" text-anchor="start" >noncoding</text>
<text transform="translate(580.79,358.60) scale(1,1.04)" font-size="14.7" fill="#000" text-anchor="start" >RNAs</text>
<text transform="translate(405.17,474.90) scale(1,1.04)" font-size="11.4" fill="#3878bd" text-anchor="start" >Low expression</text>
<text transform="translate(596.67,477.00) scale(1,1.04)" font-size="11.4" fill="#ff0000" text-anchor="start" >High expression</text>
<text x="0" y="0" font-size="11.4" fill="#000" text-anchor="middle" transform="translate(370.5,439.2) rotate(-90) scale(1,1.04)">Number of missing values</text>
<text transform="translate(479.97,573.00) scale(1,1.04)" font-size="11.4" fill="#000" text-anchor="start" >Mean expression level</text>
<text transform="translate(396.0,546.2) scale(0.88,1)" font-size="8.8" fill="#606060" text-anchor="end">0</text>
<text transform="translate(396.0,508.3) scale(0.88,1)" font-size="8.8" fill="#606060" text-anchor="end">20</text>
<text transform="translate(396.0,470.4) scale(0.88,1)" font-size="8.8" fill="#606060" text-anchor="end">40</text>
<text transform="translate(396.0,432.5) scale(0.88,1)" font-size="8.8" fill="#606060" text-anchor="end">60</text>
<text transform="translate(396.0,394.6) scale(0.88,1)" font-size="8.8" fill="#606060" text-anchor="end">80</text>
<text transform="translate(396.0,356.7) scale(0.88,1)" font-size="8.8" fill="#606060" text-anchor="end">100</text>
<text transform="translate(396.0,318.8) scale(0.88,1)" font-size="8.8" fill="#606060" text-anchor="end">120</text>
<text transform="translate(403.2,557.7) scale(0.88,1)" font-size="8.8" fill="#606060" text-anchor="middle">0</text>
<text transform="translate(456.1,557.7) scale(0.88,1)" font-size="8.8" fill="#606060" text-anchor="middle">0.2</text>
<text transform="translate(509.0,557.7) scale(0.88,1)" font-size="8.8" fill="#606060" text-anchor="middle">0.4</text>
<text transform="translate(561.8,557.7) scale(0.88,1)" font-size="8.8" fill="#606060" text-anchor="middle">0.6</text>
<text transform="translate(614.7,557.7) scale(0.88,1)" font-size="8.8" fill="#606060" text-anchor="middle">0.8</text>
<text transform="translate(667.6,557.7) scale(0.88,1)" font-size="8.8" fill="#606060" text-anchor="middle">1</text>
<path d="M405.7 326.2V334.2M403.5 326.2h4.4M403.5 334.2h4.4M408.3 366.5V370.7M406.1 366.5h4.4M406.1 370.7h4.4M410.9 382.4V386.8M408.7 382.4h4.4M408.7 386.8h4.4M413.1 382.4V386.8M410.9 382.4h4.4M410.9 386.8h4.4M416.2 392.4V398.4M414.0 392.4h4.4M414.0 398.4h4.4M418.7 392.4V398.4M416.5 392.4h4.4M416.5 398.4h4.4M421.6 398.7V406.1M419.4 398.7h4.4M419.4 406.1h4.4M424.1 407.2V416.4M421.9 407.2h4.4M421.9 416.4h4.4M426.7 406.8V416.0M424.5 406.8h4.4M424.5 416.0h4.4M429.5 414.6V424.8M427.3 414.6h4.4M427.3 424.8h4.4M432.3 425.1V436.1M430.1 425.1h4.4M430.1 436.1h4.4M434.9 440.1V451.7M432.7 440.1h4.4M432.7 451.7h4.4M437.3 430.6V443.4M435.1 430.6h4.4M435.1 443.4h4.4M440.0 438.4V452.0M437.8 438.4h4.4M437.8 452.0h4.4M442.7 447.6V462.6M440.5 447.6h4.4M440.5 462.6h4.4M445.4 451.0V465.8M443.2 451.0h4.4M443.2 465.8h4.4M448.0 449.6V465.0M445.8 449.6h4.4M445.8 465.0h4.4M450.5 454.0V471.8M448.3 454.0h4.4M448.3 471.8h4.4M453.1 470.9V485.9M450.9 470.9h4.4M450.9 485.9h4.4M455.8 469.8V485.8M453.6 469.8h4.4M453.6 485.8h4.4M458.6 466.0V485.4M456.4 466.0h4.4M456.4 485.4h4.4M461.4 481.0V497.6M459.2 481.0h4.4M459.2 497.6h4.4M463.6 471.5V490.5M461.4 471.5h4.4M461.4 490.5h4.4M466.3 487.4V506.0M464.1 487.4h4.4M464.1 506.0h4.4M469.0 488.6V507.4M466.8 488.6h4.4M466.8 507.4h4.4M472.0 484.1V501.7M469.8 484.1h4.4M469.8 501.7h4.4M474.7 478.5V501.5M472.5 478.5h4.4M472.5 501.5h4.4M476.9 492.5V510.5M474.7 492.5h4.4M474.7 510.5h4.4M479.7 493.9V513.1M477.5 493.9h4.4M477.5 513.1h4.4M482.5 487.1V510.7M480.3 487.1h4.4M480.3 510.7h4.4M485.1 488.2V510.2M482.9 488.2h4.4M482.9 510.2h4.4M487.8 504.5V525.1M485.6 504.5h4.4M485.6 525.1h4.4M490.0 487.5V511.1M487.8 487.5h4.4M487.8 511.1h4.4M492.8 491.2V516.2M490.6 491.2h4.4M490.6 516.2h4.4M495.5 481.4V508.8M493.3 481.4h4.4M493.3 508.8h4.4M498.3 494.4V517.8M496.1 494.4h4.4M496.1 517.8h4.4M501.0 498.7V522.7M498.8 498.7h4.4M498.8 522.7h4.4M503.3 494.8V518.8M501.1 494.8h4.4M501.1 518.8h4.4M506.1 504.5V525.1M503.9 504.5h4.4M503.9 525.1h4.4M508.9 497.1V524.3M506.7 497.1h4.4M506.7 524.3h4.4M511.7 489.3V518.1M509.5 489.3h4.4M509.5 518.1h4.4M514.3 491.2V518.8M512.1 491.2h4.4M512.1 518.8h4.4M516.7 507.0V528.4M514.5 507.0h4.4M514.5 528.4h4.4M519.2 510.8V534.8M517.0 510.8h4.4M517.0 534.8h4.4M522.0 482.3V523.7M519.8 482.3h4.4M519.8 523.7h4.4M524.8 475.6V511.8M522.6 475.6h4.4M522.6 511.8h4.4M527.4 508.4V532.4M525.2 508.4h4.4M525.2 532.4h4.4M529.9 501.0V532.4M527.7 501.0h4.4M527.7 532.4h4.4M532.5 486.2V526.2M530.3 486.2h4.4M530.3 526.2h4.4M535.3 503.1V532.5M533.1 503.1h4.4M533.1 532.5h4.4M537.9 488.5V527.5M535.7 488.5h4.4M535.7 527.5h4.4M540.7 482.8V521.2M538.5 482.8h4.4M538.5 521.2h4.4M543.0 495.1V526.7M540.8 495.1h4.4M540.8 526.7h4.4M545.7 474.4V519.0M543.5 474.4h4.4M543.5 519.0h4.4M548.5 498.3V535.1M546.3 498.3h4.4M546.3 535.1h4.4M551.2 466.4V521.0M549.0 466.4h4.4M549.0 521.0h4.4M554.0 509.8V540.2M551.8 509.8h4.4M551.8 540.2h4.4M556.3 502.3V534.3M554.1 502.3h4.4M554.1 534.3h4.4M559.0 514.1V541.5M556.8 514.1h4.4M556.8 541.5h4.4M561.8 520.5V536.5M559.6 520.5h4.4M559.6 536.5h4.4M564.6 518.2V543.8M562.4 518.2h4.4M567.3 489.5V525.1M565.1 489.5h4.4M565.1 525.1h4.4M569.8 533.4V542.0M567.6 533.4h4.4M567.6 542.0h4.4M574.6 536.3V543.3M572.4 536.3h4.4M577.7 499.4V535.8M575.5 499.4h4.4M575.5 535.8h4.4M580.1 482.3V541.1M577.9 482.3h4.4M577.9 541.1h4.4M582.9 468.3V538.3M580.7 468.3h4.4M580.7 538.3h4.4M585.6 497.7V543.8M583.4 497.7h4.4M588.2 508.4V543.8M586.0 508.4h4.4M590.8 507.7V543.8M588.6 507.7h4.4M593.2 494.1V540.1M591.0 494.1h4.4M591.0 540.1h4.4M595.8 521.1V543.8M593.6 521.1h4.4M598.7 498.1V536.1M596.5 498.1h4.4M596.5 536.1h4.4M601.3 538.0V543.6M599.1 538.0h4.4M604.2 500.1V543.8M602.0 500.1h4.4M606.6 489.6V537.6M604.4 489.6h4.4M604.4 537.6h4.4M609.2 485.8V535.8M607.0 485.8h4.4M607.0 535.8h4.4M611.9 534.5V542.7M609.7 534.5h4.4M609.7 542.7h4.4M619.7 498.1V539.7M617.5 498.1h4.4M617.5 539.7h4.4M622.4 534.1V543.1M620.2 534.1h4.4M620.2 543.1h4.4M628.0 481.7V535.3M625.8 481.7h4.4M625.8 535.3h4.4M630.6 481.7V535.7M628.4 481.7h4.4M628.4 535.7h4.4M635.8 484.9V543.8M633.6 484.9h4.4M638.4 469.4V543.8M636.2 469.4h4.4M641.0 521.3V543.8M638.8 521.3h4.4M643.8 476.1V538.1M641.6 476.1h4.4M641.6 538.1h4.4M646.1 489.4V543.8M643.9 489.4h4.4M648.9 515.0V543.8M646.7 515.0h4.4M651.7 492.6V540.6M649.5 492.6h4.4M649.5 540.6h4.4M654.4 502.1V543.8M652.2 502.1h4.4M657.2 533.4V542.8M655.0 533.4h4.4M655.0 542.8h4.4M662.2 506.4V543.8M660.0 506.4h4.4M665.1 539.2V543.6M662.9 539.2h4.4M667.7 539.5V542.5M665.5 539.5h4.4M665.5 542.5h4.4" stroke="#8f8f8f" stroke-width="1" fill="none"/>
<path d="M403.2 316.4V543.8H667.6" stroke="#2b2b2b" stroke-width="1.4" fill="none"/>
<path d="M400.6 543.8H403.2M400.6 505.9H403.2M400.6 468.0H403.2M400.6 430.1H403.2M400.6 392.2H403.2M400.6 354.3H403.2M400.6 316.4H403.2M403.2 543.8V546.4M456.1 543.8V546.4M509.0 543.8V546.4M561.8 543.8V546.4M614.7 543.8V546.4M667.6 543.8V546.4" stroke="#2b2b2b" stroke-width="1.2" fill="none"/>
<g fill="#000"><circle cx="405.7" cy="330.2" r="1.5"/><circle cx="408.3" cy="368.6" r="1.5"/><circle cx="410.9" cy="384.6" r="1.5"/><circle cx="413.1" cy="384.6" r="1.5"/><circle cx="416.2" cy="395.4" r="1.5"/><circle cx="418.7" cy="395.4" r="1.5"/><circle cx="421.6" cy="402.4" r="1.5"/><circle cx="424.1" cy="411.8" r="1.5"/><circle cx="426.7" cy="411.4" r="1.5"/><circle cx="429.5" cy="419.7" r="1.5"/><circle cx="432.3" cy="430.6" r="1.5"/><circle cx="434.9" cy="445.9" r="1.5"/><circle cx="437.3" cy="437.0" r="1.5"/><circle cx="440.0" cy="445.2" r="1.5"/><circle cx="442.7" cy="455.1" r="1.5"/><circle cx="445.4" cy="458.4" r="1.5"/><circle cx="448.0" cy="457.3" r="1.5"/><circle cx="450.5" cy="462.9" r="1.5"/><circle cx="453.1" cy="478.4" r="1.5"/><circle cx="455.8" cy="477.8" r="1.5"/><circle cx="458.6" cy="475.7" r="1.5"/><circle cx="461.4" cy="489.3" r="1.5"/><circle cx="463.6" cy="481.0" r="1.5"/><circle cx="466.3" cy="496.7" r="1.5"/><circle cx="469.0" cy="498.0" r="1.5"/><circle cx="472.0" cy="492.9" r="1.5"/><circle cx="474.7" cy="490.0" r="1.5"/><circle cx="476.9" cy="501.5" r="1.5"/><circle cx="479.7" cy="503.5" r="1.5"/><circle cx="482.5" cy="498.9" r="1.5"/><circle cx="485.1" cy="499.2" r="1.5"/><circle cx="487.8" cy="514.8" r="1.5"/><circle cx="490.0" cy="499.3" r="1.5"/><circle cx="492.8" cy="503.7" r="1.5"/><circle cx="495.5" cy="495.1" r="1.5"/><circle cx="498.3" cy="506.1" r="1.5"/><circle cx="501.0" cy="510.7" r="1.5"/><circle cx="503.3" cy="506.8" r="1.5"/><circle cx="506.1" cy="514.8" r="1.5"/><circle cx="508.9" cy="510.7" r="1.5"/><circle cx="511.7" cy="503.7" r="1.5"/><circle cx="514.3" cy="505.0" r="1.5"/><circle cx="516.7" cy="517.7" r="1.5"/><circle cx="519.2" cy="522.8" r="1.5"/><circle cx="522.0" cy="503.0" r="1.5"/><circle cx="524.8" cy="493.7" r="1.5"/><circle cx="527.4" cy="520.4" r="1.5"/><circle cx="529.9" cy="516.7" r="1.5"/><circle cx="532.5" cy="506.2" r="1.5"/><circle cx="535.3" cy="517.8" r="1.5"/><circle cx="537.9" cy="508.0" r="1.5"/><circle cx="540.7" cy="502.0" r="1.5"/><circle cx="543.0" cy="510.9" r="1.5"/><circle cx="545.7" cy="496.7" r="1.5"/><circle cx="548.5" cy="516.7" r="1.5"/><circle cx="551.2" cy="493.7" r="1.5"/><circle cx="554.0" cy="525.0" r="1.5"/><circle cx="556.3" cy="518.3" r="1.5"/><circle cx="559.0" cy="527.8" r="1.5"/><circle cx="561.8" cy="528.5" r="1.5"/><circle cx="564.6" cy="531.8" r="1.5"/><circle cx="567.3" cy="507.3" r="1.5"/><circle cx="569.8" cy="537.7" r="1.5"/><circle cx="572.2" cy="540.5" r="1.5"/><circle cx="574.6" cy="539.8" r="1.5"/><circle cx="577.7" cy="517.6" r="1.5"/><circle cx="580.1" cy="511.7" r="1.5"/><circle cx="582.9" cy="503.3" r="1.5"/><circle cx="585.6" cy="521.7" r="1.5"/><circle cx="588.2" cy="526.2" r="1.5"/><circle cx="590.8" cy="527.7" r="1.5"/><circle cx="593.2" cy="517.1" r="1.5"/><circle cx="595.8" cy="533.5" r="1.5"/><circle cx="598.7" cy="517.1" r="1.5"/><circle cx="601.3" cy="540.8" r="1.5"/><circle cx="604.2" cy="524.9" r="1.5"/><circle cx="606.6" cy="513.6" r="1.5"/><circle cx="609.2" cy="510.8" r="1.5"/><circle cx="611.9" cy="538.6" r="1.5"/><circle cx="614.8" cy="543.0" r="1.5"/><circle cx="617.3" cy="543.0" r="1.5"/><circle cx="619.7" cy="518.9" r="1.5"/><circle cx="622.4" cy="538.6" r="1.5"/><circle cx="625.1" cy="543.4" r="1.5"/><circle cx="628.0" cy="508.5" r="1.5"/><circle cx="630.6" cy="508.7" r="1.5"/><circle cx="633.0" cy="543.4" r="1.5"/><circle cx="635.8" cy="518.9" r="1.5"/><circle cx="638.4" cy="511.4" r="1.5"/><circle cx="641.0" cy="533.1" r="1.5"/><circle cx="643.8" cy="507.1" r="1.5"/><circle cx="646.1" cy="518.9" r="1.5"/><circle cx="648.9" cy="531.2" r="1.5"/><circle cx="651.7" cy="516.6" r="1.5"/><circle cx="654.4" cy="525.9" r="1.5"/><circle cx="657.2" cy="538.1" r="1.5"/><circle cx="659.4" cy="543.4" r="1.5"/><circle cx="662.2" cy="527.2" r="1.5"/><circle cx="665.1" cy="541.4" r="1.5"/><circle cx="667.7" cy="541.0" r="1.5"/></g>
<text transform="translate(111.87,621.20) scale(1,1.04)" font-size="14.7" fill="#000" text-anchor="start" >Unprocessed</text>
<text transform="translate(206.35,621.20) scale(1,1.04)" font-size="14.7" fill="#000" text-anchor="start" >pseudogenes</text>
<text transform="translate(63.67,772.20) scale(1,1.04)" font-size="11.4" fill="#3878bd" text-anchor="start" >Low expression</text>
<text transform="translate(254.57,774.60) scale(1,1.04)" font-size="11.4" fill="#ff0000" text-anchor="start" >High expression</text>
<text x="0" y="0" font-size="11.4" fill="#000" text-anchor="middle" transform="translate(28.6,736.6) rotate(-90) scale(1,1.04)">Number of missing values</text>
<text transform="translate(138.47,870.00) scale(1,1.04)" font-size="11.4" fill="#000" text-anchor="start" >Mean expression level</text>
<text transform="translate(54.0,843.6) scale(0.88,1)" font-size="8.8" fill="#606060" text-anchor="end">0</text>
<text transform="translate(54.0,805.6) scale(0.88,1)" font-size="8.8" fill="#606060" text-anchor="end">20</text>
<text transform="translate(54.0,767.6) scale(0.88,1)" font-size="8.8" fill="#606060" text-anchor="end">40</text>
<text transform="translate(54.0,729.6) scale(0.88,1)" font-size="8.8" fill="#606060" text-anchor="end">60</text>
<text transform="translate(54.0,691.6) scale(0.88,1)" font-size="8.8" fill="#606060" text-anchor="end">80</text>
<text transform="translate(54.0,653.6) scale(0.88,1)" font-size="8.8" fill="#606060" text-anchor="end">100</text>
<text transform="translate(54.0,615.6) scale(0.88,1)" font-size="8.8" fill="#606060" text-anchor="end">120</text>
<text transform="translate(61.3,855.1) scale(0.88,1)" font-size="8.8" fill="#606060" text-anchor="middle">0</text>
<text transform="translate(114.1,855.1) scale(0.88,1)" font-size="8.8" fill="#606060" text-anchor="middle">0.2</text>
<text transform="translate(166.9,855.1) scale(0.88,1)" font-size="8.8" fill="#606060" text-anchor="middle">0.4</text>
<text transform="translate(219.7,855.1) scale(0.88,1)" font-size="8.8" fill="#606060" text-anchor="middle">0.6</text>
<text transform="translate(272.5,855.1) scale(0.88,1)" font-size="8.8" fill="#606060" text-anchor="middle">0.8</text>
<text transform="translate(325.3,855.1) scale(0.88,1)" font-size="8.8" fill="#606060" text-anchor="middle">1</text>
<path d="M64.0 619.6V633.6M61.8 619.6h4.4M61.8 633.6h4.4M66.5 654.6V660.8M64.3 654.6h4.4M64.3 660.8h4.4M69.4 662.3V667.5M67.2 662.3h4.4M67.2 667.5h4.4M71.8 662.3V667.5M69.6 662.3h4.4M69.6 667.5h4.4M74.4 657.9V664.1M72.2 657.9h4.4M72.2 664.1h4.4M77.0 660.5V667.3M74.8 660.5h4.4M74.8 667.3h4.4M79.9 661.8V670.6M77.7 661.8h4.4M77.7 670.6h4.4M82.8 663.6V672.4M80.6 663.6h4.4M80.6 672.4h4.4M85.6 663.5V674.7M83.4 663.5h4.4M83.4 674.7h4.4M87.7 669.8V682.2M85.5 669.8h4.4M85.5 682.2h4.4M90.5 661.2V674.2M88.3 661.2h4.4M88.3 674.2h4.4M93.1 661.7V675.7M90.9 661.7h4.4M90.9 675.7h4.4M95.8 686.5V704.5M93.6 686.5h4.4M93.6 704.5h4.4M98.5 678.4V694.2M96.3 678.4h4.4M96.3 694.2h4.4M100.8 679.9V697.5M98.6 679.9h4.4M98.6 697.5h4.4M103.5 672.5V692.1M101.3 672.5h4.4M101.3 692.1h4.4M106.3 688.0V710.4M104.1 688.0h4.4M104.1 710.4h4.4M109.2 677.0V697.0M107.0 677.0h4.4M107.0 697.0h4.4M111.8 692.1V716.1M109.6 692.1h4.4M109.6 716.1h4.4M114.0 687.8V711.4M111.8 687.8h4.4M111.8 711.4h4.4M116.9 693.7V720.9M114.7 693.7h4.4M114.7 720.9h4.4M119.6 695.1V723.3M117.4 695.1h4.4M117.4 723.3h4.4M122.3 700.6V728.6M120.1 700.6h4.4M120.1 728.6h4.4M125.0 689.1V718.5M122.8 689.1h4.4M122.8 718.5h4.4M127.3 704.5V733.7M125.1 704.5h4.4M125.1 733.7h4.4M130.0 692.3V725.1M127.8 692.3h4.4M127.8 725.1h4.4M132.9 689.5V723.3M130.7 689.5h4.4M130.7 723.3h4.4M135.6 686.7V720.7M133.4 686.7h4.4M133.4 720.7h4.4M137.8 698.4V731.8M135.6 698.4h4.4M135.6 731.8h4.4M140.6 711.1V745.5M138.4 711.1h4.4M138.4 745.5h4.4M143.3 684.0V718.0M141.1 684.0h4.4M141.1 718.0h4.4M145.9 700.9V740.9M143.7 700.9h4.4M143.7 740.9h4.4M148.8 714.1V750.9M146.6 714.1h4.4M146.6 750.9h4.4M151.2 704.0V743.4M149.0 704.0h4.4M149.0 743.4h4.4M153.8 727.8V764.2M151.6 727.8h4.4M151.6 764.2h4.4M156.3 733.1V776.3M154.1 733.1h4.4M154.1 776.3h4.4M159.2 720.8V766.8M157.0 720.8h4.4M157.0 766.8h4.4M162.0 731.2V772.2M159.8 731.2h4.4M159.8 772.2h4.4M164.3 718.3V760.3M162.1 718.3h4.4M162.1 760.3h4.4M166.8 737.4V785.4M164.6 737.4h4.4M164.6 785.4h4.4M170.0 740.3V786.9M167.8 740.3h4.4M167.8 786.9h4.4M172.8 733.7V792.3M170.6 733.7h4.4M170.6 792.3h4.4M175.2 685.9V730.7M173.0 685.9h4.4M173.0 730.7h4.4M177.6 721.2V767.2M175.4 721.2h4.4M175.4 767.2h4.4M180.4 699.0V766.6M178.2 699.0h4.4M178.2 766.6h4.4M183.1 726.7V781.1M180.9 726.7h4.4M180.9 781.1h4.4M185.7 724.8V784.8M183.5 724.8h4.4M183.5 784.8h4.4M187.9 751.3V800.9M185.7 751.3h4.4M185.7 800.9h4.4M190.7 791.0V839.0M188.5 791.0h4.4M188.5 839.0h4.4M193.3 759.7V803.7M191.1 759.7h4.4M191.1 803.7h4.4M196.1 739.3V788.3M193.9 739.3h4.4M193.9 788.3h4.4M199.0 703.3V766.3M196.8 703.3h4.4M196.8 766.3h4.4M201.3 744.1V799.1M199.1 744.1h4.4M199.1 799.1h4.4M204.0 740.3V798.3M201.8 740.3h4.4M201.8 798.3h4.4M206.6 784.2V833.0M204.4 784.2h4.4M204.4 833.0h4.4M209.6 679.7V746.5M207.4 679.7h4.4M207.4 746.5h4.4M212.3 682.7V740.7M210.1 682.7h4.4M210.1 740.7h4.4M214.5 658.4V747.4M212.3 658.4h4.4M212.3 747.4h4.4M217.3 703.7V778.9M215.1 703.7h4.4M215.1 778.9h4.4M219.8 721.5V788.5M217.6 721.5h4.4M217.6 788.5h4.4M222.5 678.3V763.1M220.3 678.3h4.4M220.3 763.1h4.4M225.2 674.3V749.7M223.0 674.3h4.4M223.0 749.7h4.4M227.4 708.7V797.5M225.2 708.7h4.4M225.2 797.5h4.4M230.2 701.3V767.7M228.0 701.3h4.4M228.0 767.7h4.4M232.9 724.1V805.1M230.7 724.1h4.4M230.7 805.1h4.4M235.7 691.0V767.0M233.5 691.0h4.4M233.5 767.0h4.4M238.4 690.8V771.6M236.2 690.8h4.4M236.2 771.6h4.4M241.2 673.4V765.4M239.0 673.4h4.4M239.0 765.4h4.4M243.9 814.9V836.3M241.7 814.9h4.4M241.7 836.3h4.4M246.6 673.9V758.3M244.4 673.9h4.4M244.4 758.3h4.4M249.4 723.5V816.7M247.2 723.5h4.4M247.2 816.7h4.4M251.6 662.5V768.1M249.4 662.5h4.4M249.4 768.1h4.4M254.3 723.6V805.6M252.1 723.6h4.4M252.1 805.6h4.4M257.1 724.2V796.8M254.9 724.2h4.4M254.9 796.8h4.4M259.8 675.4V760.6M257.6 675.4h4.4M257.6 760.6h4.4M262.5 659.0V761.0M260.3 659.0h4.4M260.3 761.0h4.4M265.0 734.0V819.0M262.8 734.0h4.4M262.8 819.0h4.4M267.5 734.4V778.4M265.3 734.4h4.4M265.3 778.4h4.4M270.2 664.9V772.5M268.0 664.9h4.4M268.0 772.5h4.4M272.9 770.0V827.4M270.7 770.0h4.4M270.7 827.4h4.4M275.5 717.8V809.4M273.3 717.8h4.4M273.3 809.4h4.4M278.0 677.0V777.0M275.8 677.0h4.4M275.8 777.0h4.4M280.7 693.0V809.0M278.5 693.0h4.4M278.5 809.0h4.4M283.4 662.0V796.0M281.2 662.0h4.4M281.2 796.0h4.4M285.9 702.4V813.6M283.7 702.4h4.4M283.7 813.6h4.4M288.6 669.4V827.2M286.4 669.4h4.4M286.4 827.2h4.4M291.0 759.4V841.2M288.8 759.4h4.4M294.0 752.2V821.2M291.8 752.2h4.4M291.8 821.2h4.4M296.6 674.0V784.0M294.4 674.0h4.4M294.4 784.0h4.4M299.3 675.0V809.6M297.1 675.0h4.4M297.1 809.6h4.4M301.6 653.3V767.3M299.4 653.3h4.4M299.4 767.3h4.4M304.3 677.6V790.2M302.1 677.6h4.4M302.1 790.2h4.4M307.0 611.2V750.3M304.8 750.3h4.4M309.9 617.9V817.1M307.7 617.9h4.4M307.7 817.1h4.4M312.6 708.0V808.0M310.4 708.0h4.4M310.4 808.0h4.4M315.0 713.4V808.0M312.8 713.4h4.4M312.8 808.0h4.4M317.5 613.2V773.2M315.3 613.2h4.4M315.3 773.2h4.4M320.2 611.2V694.6M318.0 694.6h4.4M323.1 741.9V834.9M320.9 741.9h4.4M320.9 834.9h4.4M325.6 671.9V801.5M323.4 671.9h4.4M323.4 801.5h4.4" stroke="#8f8f8f" stroke-width="1" fill="none"/>
<path d="M61.3 613.2V841.2H325.3" stroke="#2b2b2b" stroke-width="1.4" fill="none"/>
<path d="M58.7 841.2H61.3M58.7 803.2H61.3M58.7 765.2H61.3M58.7 727.2H61.3M58.7 689.2H61.3M58.7 651.2H61.3M58.7 613.2H61.3M61.3 841.2V843.8M114.1 841.2V843.8M166.9 841.2V843.8M219.7 841.2V843.8M272.5 841.2V843.8M325.3 841.2V843.8" stroke="#2b2b2b" stroke-width="1.2" fill="none"/>
<g fill="#000"><circle cx="64.0" cy="626.6" r="1.5"/><circle cx="66.5" cy="657.7" r="1.5"/><circle cx="69.4" cy="664.9" r="1.5"/><circle cx="71.8" cy="664.9" r="1.5"/><circle cx="74.4" cy="661.0" r="1.5"/><circle cx="77.0" cy="663.9" r="1.5"/><circle cx="79.9" cy="666.2" r="1.5"/><circle cx="82.8" cy="668.0" r="1.5"/><circle cx="85.6" cy="669.1" r="1.5"/><circle cx="87.7" cy="676.0" r="1.5"/><circle cx="90.5" cy="667.7" r="1.5"/><circle cx="93.1" cy="668.7" r="1.5"/><circle cx="95.8" cy="695.5" r="1.5"/><circle cx="98.5" cy="686.3" r="1.5"/><circle cx="100.8" cy="688.7" r="1.5"/><circle cx="103.5" cy="682.3" r="1.5"/><circle cx="106.3" cy="699.2" r="1.5"/><circle cx="109.2" cy="687.0" r="1.5"/><circle cx="111.8" cy="704.1" r="1.5"/><circle cx="114.0" cy="699.6" r="1.5"/><circle cx="116.9" cy="707.3" r="1.5"/><circle cx="119.6" cy="709.2" r="1.5"/><circle cx="122.3" cy="714.6" r="1.5"/><circle cx="125.0" cy="703.8" r="1.5"/><circle cx="127.3" cy="719.1" r="1.5"/><circle cx="130.0" cy="708.7" r="1.5"/><circle cx="132.9" cy="706.4" r="1.5"/><circle cx="135.6" cy="703.7" r="1.5"/><circle cx="137.8" cy="715.1" r="1.5"/><circle cx="140.6" cy="728.3" r="1.5"/><circle cx="143.3" cy="701.0" r="1.5"/><circle cx="145.9" cy="720.9" r="1.5"/><circle cx="148.8" cy="732.5" r="1.5"/><circle cx="151.2" cy="723.7" r="1.5"/><circle cx="153.8" cy="746.0" r="1.5"/><circle cx="156.3" cy="754.7" r="1.5"/><circle cx="159.2" cy="743.8" r="1.5"/><circle cx="162.0" cy="751.7" r="1.5"/><circle cx="164.3" cy="739.3" r="1.5"/><circle cx="166.8" cy="761.4" r="1.5"/><circle cx="170.0" cy="763.6" r="1.5"/><circle cx="172.8" cy="763.0" r="1.5"/><circle cx="175.2" cy="708.3" r="1.5"/><circle cx="177.6" cy="744.2" r="1.5"/><circle cx="180.4" cy="732.8" r="1.5"/><circle cx="183.1" cy="753.9" r="1.5"/><circle cx="185.7" cy="754.8" r="1.5"/><circle cx="187.9" cy="776.1" r="1.5"/><circle cx="190.7" cy="815.0" r="1.5"/><circle cx="193.3" cy="781.7" r="1.5"/><circle cx="196.1" cy="763.8" r="1.5"/><circle cx="199.0" cy="734.8" r="1.5"/><circle cx="201.3" cy="771.6" r="1.5"/><circle cx="204.0" cy="769.3" r="1.5"/><circle cx="206.6" cy="808.6" r="1.5"/><circle cx="209.6" cy="713.1" r="1.5"/><circle cx="212.3" cy="711.7" r="1.5"/><circle cx="214.5" cy="702.9" r="1.5"/><circle cx="217.3" cy="741.3" r="1.5"/><circle cx="219.8" cy="755.0" r="1.5"/><circle cx="222.5" cy="720.7" r="1.5"/><circle cx="225.2" cy="712.0" r="1.5"/><circle cx="227.4" cy="753.1" r="1.5"/><circle cx="230.2" cy="734.5" r="1.5"/><circle cx="232.9" cy="764.6" r="1.5"/><circle cx="235.7" cy="729.0" r="1.5"/><circle cx="238.4" cy="731.2" r="1.5"/><circle cx="241.2" cy="719.4" r="1.5"/><circle cx="243.9" cy="825.6" r="1.5"/><circle cx="246.6" cy="716.1" r="1.5"/><circle cx="249.4" cy="770.1" r="1.5"/><circle cx="251.6" cy="715.3" r="1.5"/><circle cx="254.3" cy="764.6" r="1.5"/><circle cx="257.1" cy="760.5" r="1.5"/><circle cx="259.8" cy="718.0" r="1.5"/><circle cx="262.5" cy="710.0" r="1.5"/><circle cx="265.0" cy="776.5" r="1.5"/><circle cx="267.5" cy="756.4" r="1.5"/><circle cx="270.2" cy="718.7" r="1.5"/><circle cx="272.9" cy="798.7" r="1.5"/><circle cx="275.5" cy="763.6" r="1.5"/><circle cx="278.0" cy="727.0" r="1.5"/><circle cx="280.7" cy="751.0" r="1.5"/><circle cx="283.4" cy="729.0" r="1.5"/><circle cx="285.9" cy="749.4" r="1.5"/><circle cx="288.6" cy="748.3" r="1.5"/><circle cx="291.0" cy="806.9" r="1.5"/><circle cx="294.0" cy="786.7" r="1.5"/><circle cx="296.6" cy="729.0" r="1.5"/><circle cx="299.3" cy="742.3" r="1.5"/><circle cx="301.6" cy="710.3" r="1.5"/><circle cx="304.3" cy="733.9" r="1.5"/><circle cx="307.0" cy="680.3" r="1.5"/><circle cx="309.9" cy="717.5" r="1.5"/><circle cx="312.6" cy="758.0" r="1.5"/><circle cx="315.0" cy="760.7" r="1.5"/><circle cx="317.5" cy="693.2" r="1.5"/><circle cx="320.2" cy="638.4" r="1.5"/><circle cx="323.1" cy="788.4" r="1.5"/><circle cx="325.6" cy="736.7" r="1.5"/></g>
<text transform="translate(462.29,616.30) scale(1,1.04)" font-size="14.7" fill="#000" text-anchor="start" >Processed</text>
<text transform="translate(538.75,616.30) scale(1,1.04)" font-size="14.7" fill="#000" text-anchor="start" >pseudogenes</text>
<text transform="translate(403.67,772.20) scale(1,1.04)" font-size="11.4" fill="#3878bd" text-anchor="start" >Low expression</text>
<text transform="translate(594.57,774.60) scale(1,1.04)" font-size="11.4" fill="#ff0000" text-anchor="start" >High expression</text>
<text x="0" y="0" font-size="11.4" fill="#000" text-anchor="middle" transform="translate(369.5,736.2) rotate(-90) scale(1,1.04)">Number of missing values</text>
<text transform="translate(478.47,870.40) scale(1,1.04)" font-size="11.4" fill="#000" text-anchor="start" >Mean expression level</text>
<text transform="translate(394.0,843.6) scale(0.88,1)" font-size="8.8" fill="#606060" text-anchor="end">0</text>
<text transform="translate(394.0,815.1) scale(0.88,1)" font-size="8.8" fill="#606060" text-anchor="end">20</text>
<text transform="translate(394.0,786.6) scale(0.88,1)" font-size="8.8" fill="#606060" text-anchor="end">40</text>
<text transform="translate(394.0,758.1) scale(0.88,1)" font-size="8.8" fill="#606060" text-anchor="end">60</text>
<text transform="translate(394.0,729.6) scale(0.88,1)" font-size="8.8" fill="#606060" text-anchor="end">80</text>
<text transform="translate(394.0,701.1) scale(0.88,1)" font-size="8.8" fill="#606060" text-anchor="end">100</text>
<text transform="translate(394.0,672.6) scale(0.88,1)" font-size="8.8" fill="#606060" text-anchor="end">120</text>
<text transform="translate(394.0,644.1) scale(0.88,1)" font-size="8.8" fill="#606060" text-anchor="end">140</text>
<text transform="translate(394.0,615.6) scale(0.88,1)" font-size="8.8" fill="#606060" text-anchor="end">160</text>
<text transform="translate(401.6,855.1) scale(0.88,1)" font-size="8.8" fill="#606060" text-anchor="middle">0</text>
<text transform="translate(454.5,855.1) scale(0.88,1)" font-size="8.8" fill="#606060" text-anchor="middle">0.2</text>
<text transform="translate(507.4,855.1) scale(0.88,1)" font-size="8.8" fill="#606060" text-anchor="middle">0.4</text>
<text transform="translate(560.2,855.1) scale(0.88,1)" font-size="8.8" fill="#606060" text-anchor="middle">0.6</text>
<text transform="translate(613.1,855.1) scale(0.88,1)" font-size="8.8" fill="#606060" text-anchor="middle">0.8</text>
<text transform="translate(666.0,855.1) scale(0.88,1)" font-size="8.8" fill="#606060" text-anchor="middle">1</text>
<path d="M404.1 666.4V671.6M401.9 666.4h4.4M401.9 671.6h4.4M406.9 678.1V683.9M404.7 678.1h4.4M404.7 683.9h4.4M409.4 688.4V695.6M407.2 688.4h4.4M407.2 695.6h4.4M412.0 697.5V704.5M409.8 697.5h4.4M409.8 704.5h4.4M414.8 696.6V703.6M412.6 696.6h4.4M412.6 703.6h4.4M417.7 698.9V708.9M415.5 698.9h4.4M415.5 708.9h4.4M420.3 698.4V711.0M418.1 698.4h4.4M418.1 711.0h4.4M422.8 700.4V718.2M420.6 700.4h4.4M420.6 718.2h4.4M425.4 696.2V716.8M423.2 696.2h4.4M423.2 716.8h4.4M428.2 690.2V710.6M426.0 690.2h4.4M426.0 710.6h4.4M430.7 702.7V730.7M428.5 702.7h4.4M428.5 730.7h4.4M433.6 687.5V720.7M431.4 687.5h4.4M431.4 720.7h4.4M436.1 690.4V731.4M433.9 690.4h4.4M433.9 731.4h4.4M438.5 694.3V728.7M436.3 694.3h4.4M436.3 728.7h4.4M441.2 686.5V732.5M439.0 686.5h4.4M439.0 732.5h4.4M443.9 684.2V723.6M441.7 684.2h4.4M441.7 723.6h4.4M446.9 689.8V755.8M444.7 689.8h4.4M444.7 755.8h4.4M449.0 690.4V731.4M446.8 690.4h4.4M446.8 731.4h4.4M451.8 694.3V739.5M449.6 694.3h4.4M449.6 739.5h4.4M454.3 702.5V766.5M452.1 702.5h4.4M452.1 766.5h4.4M457.2 697.4V755.4M455.0 697.4h4.4M455.0 755.4h4.4M460.0 665.8V693.2M457.8 665.8h4.4M457.8 693.2h4.4M462.3 690.9V738.9M460.1 690.9h4.4M460.1 738.9h4.4M465.1 710.4V767.2M462.9 710.4h4.4M462.9 767.2h4.4M467.9 717.8V800.8M465.7 717.8h4.4M465.7 800.8h4.4M470.5 700.8V764.8M468.3 700.8h4.4M468.3 764.8h4.4M472.8 665.3V730.3M470.6 665.3h4.4M470.6 730.3h4.4M475.4 701.0V759.0M473.2 701.0h4.4M473.2 759.0h4.4M478.2 701.0V790.0M476.0 701.0h4.4M476.0 790.0h4.4M481.0 635.1V803.1M478.8 635.1h4.4M478.8 803.1h4.4M483.6 670.9V715.3M481.4 670.9h4.4M481.4 715.3h4.4M486.1 679.8V761.8M483.9 679.8h4.4M483.9 761.8h4.4M488.9 676.7V804.7M486.7 676.7h4.4M486.7 804.7h4.4M491.2 655.7V658.7M489.0 655.7h4.4M489.0 658.7h4.4M494.2 723.5V841.2M492.0 723.5h4.4M496.8 692.3V776.3M494.6 692.3h4.4M494.6 776.3h4.4M499.3 667.6V714.2M497.1 667.6h4.4M497.1 714.2h4.4M502.1 685.9V770.7M499.9 685.9h4.4M499.9 770.7h4.4M504.7 708.4V830.4M502.5 708.4h4.4M502.5 830.4h4.4M507.5 642.4V731.4M505.3 642.4h4.4M505.3 731.4h4.4M510.3 731.9V825.9M508.1 731.9h4.4M508.1 825.9h4.4M512.5 660.9V796.9M510.3 660.9h4.4M510.3 796.9h4.4M520.6 634.1V804.1M518.4 634.1h4.4M518.4 804.1h4.4M523.2 698.0V806.0M521.0 698.0h4.4M521.0 806.0h4.4M525.7 711.5V834.5M523.5 711.5h4.4M523.5 834.5h4.4M528.5 691.7V841.2M526.3 691.7h4.4M531.3 716.1V805.7M529.1 716.1h4.4M529.1 805.7h4.4M536.6 639.2V745.2M534.4 639.2h4.4M534.4 745.2h4.4M538.9 691.7V841.2M536.7 691.7h4.4M541.7 652.7V825.9M539.5 652.7h4.4M539.5 825.9h4.4M547.3 657.5V811.1M545.1 657.5h4.4M545.1 811.1h4.4M557.5 759.7V836.7M555.3 759.7h4.4M555.3 836.7h4.4M563.0 619.6V841.2M560.8 619.6h4.4M565.6 622.2V841.2M563.4 622.2h4.4M568.1 762.3V841.2M565.9 762.3h4.4M571.0 802.3V841.2M568.8 802.3h4.4M576.2 660.3V841.2M574.0 660.3h4.4M589.7 729.1V841.2M587.5 729.1h4.4M592.0 642.7V749.9M589.8 642.7h4.4M589.8 749.9h4.4M594.5 665.4V679.2M592.3 665.4h4.4M592.3 679.2h4.4M599.8 833.9V840.9M597.6 833.9h4.4M605.2 642.6V841.2M603.0 642.6h4.4M607.6 672.2V841.2M605.4 672.2h4.4M610.8 653.8V656.8M608.6 653.8h4.4M608.6 656.8h4.4M616.0 719.6V841.2M613.8 719.6h4.4M620.9 706.7V841.2M618.7 706.7h4.4M626.5 632.5V830.5M624.3 632.5h4.4M624.3 830.5h4.4M629.2 834.8V840.8M627.0 834.8h4.4M650.3 617.4V841.2M648.1 617.4h4.4M655.4 633.9V778.9M653.2 633.9h4.4M653.2 778.9h4.4M657.9 652.1V681.7M655.7 652.1h4.4M655.7 681.7h4.4M666.0 653.8V659.8M663.8 653.8h4.4M663.8 659.8h4.4" stroke="#8f8f8f" stroke-width="1" fill="none"/>
<path d="M401.6 613.2V841.2H666.0" stroke="#2b2b2b" stroke-width="1.4" fill="none"/>
<path d="M399.0 841.2H401.6M399.0 812.7H401.6M399.0 784.2H401.6M399.0 755.7H401.6M399.0 727.2H401.6M399.0 698.7H401.6M399.0 670.2H401.6M399.0 641.7H401.6M399.0 613.2H401.6M401.6 841.2V843.8M454.5 841.2V843.8M507.4 841.2V843.8M560.2 841.2V843.8M613.1 841.2V843.8M666.0 841.2V843.8" stroke="#2b2b2b" stroke-width="1.2" fill="none"/>
<g fill="#000"><circle cx="404.1" cy="669.0" r="1.5"/><circle cx="406.9" cy="681.0" r="1.5"/><circle cx="409.4" cy="692.0" r="1.5"/><circle cx="412.0" cy="701.0" r="1.5"/><circle cx="414.8" cy="700.1" r="1.5"/><circle cx="417.7" cy="703.9" r="1.5"/><circle cx="420.3" cy="704.7" r="1.5"/><circle cx="422.8" cy="709.3" r="1.5"/><circle cx="425.4" cy="706.5" r="1.5"/><circle cx="428.2" cy="700.4" r="1.5"/><circle cx="430.7" cy="716.7" r="1.5"/><circle cx="433.6" cy="704.1" r="1.5"/><circle cx="436.1" cy="710.9" r="1.5"/><circle cx="438.5" cy="711.5" r="1.5"/><circle cx="441.2" cy="709.5" r="1.5"/><circle cx="443.9" cy="703.9" r="1.5"/><circle cx="446.9" cy="722.8" r="1.5"/><circle cx="449.0" cy="710.9" r="1.5"/><circle cx="451.8" cy="716.9" r="1.5"/><circle cx="454.3" cy="734.5" r="1.5"/><circle cx="457.2" cy="726.4" r="1.5"/><circle cx="460.0" cy="679.5" r="1.5"/><circle cx="462.3" cy="714.9" r="1.5"/><circle cx="465.1" cy="738.8" r="1.5"/><circle cx="467.9" cy="759.3" r="1.5"/><circle cx="470.5" cy="732.8" r="1.5"/><circle cx="472.8" cy="697.8" r="1.5"/><circle cx="475.4" cy="730.0" r="1.5"/><circle cx="478.2" cy="745.5" r="1.5"/><circle cx="481.0" cy="719.1" r="1.5"/><circle cx="483.6" cy="693.1" r="1.5"/><circle cx="486.1" cy="720.8" r="1.5"/><circle cx="488.9" cy="740.7" r="1.5"/><circle cx="491.2" cy="657.2" r="1.5"/><circle cx="494.2" cy="784.0" r="1.5"/><circle cx="496.8" cy="734.3" r="1.5"/><circle cx="499.3" cy="690.9" r="1.5"/><circle cx="502.1" cy="728.3" r="1.5"/><circle cx="504.7" cy="769.4" r="1.5"/><circle cx="507.5" cy="686.9" r="1.5"/><circle cx="510.3" cy="778.9" r="1.5"/><circle cx="512.5" cy="728.9" r="1.5"/><circle cx="515.4" cy="658.9" r="1.5"/><circle cx="517.9" cy="823.5" r="1.5"/><circle cx="520.6" cy="719.1" r="1.5"/><circle cx="523.2" cy="752.0" r="1.5"/><circle cx="525.7" cy="773.0" r="1.5"/><circle cx="528.5" cy="779.1" r="1.5"/><circle cx="531.3" cy="760.9" r="1.5"/><circle cx="533.8" cy="681.8" r="1.5"/><circle cx="536.6" cy="692.2" r="1.5"/><circle cx="538.9" cy="779.1" r="1.5"/><circle cx="541.7" cy="739.3" r="1.5"/><circle cx="544.5" cy="657.7" r="1.5"/><circle cx="547.3" cy="734.3" r="1.5"/><circle cx="550.0" cy="654.6" r="1.5"/><circle cx="552.0" cy="840.0" r="1.5"/><circle cx="554.8" cy="665.9" r="1.5"/><circle cx="557.5" cy="798.2" r="1.5"/><circle cx="560.4" cy="670.4" r="1.5"/><circle cx="563.0" cy="748.3" r="1.5"/><circle cx="565.6" cy="741.6" r="1.5"/><circle cx="568.1" cy="808.0" r="1.5"/><circle cx="571.0" cy="822.7" r="1.5"/><circle cx="573.4" cy="711.3" r="1.5"/><circle cx="576.2" cy="765.3" r="1.5"/><circle cx="578.6" cy="837.6" r="1.5"/><circle cx="581.6" cy="704.0" r="1.5"/><circle cx="584.1" cy="840.7" r="1.5"/><circle cx="586.9" cy="654.9" r="1.5"/><circle cx="589.7" cy="793.1" r="1.5"/><circle cx="592.0" cy="696.3" r="1.5"/><circle cx="594.5" cy="672.3" r="1.5"/><circle cx="597.2" cy="722.5" r="1.5"/><circle cx="599.8" cy="837.4" r="1.5"/><circle cx="602.7" cy="654.4" r="1.5"/><circle cx="605.2" cy="758.4" r="1.5"/><circle cx="607.6" cy="841.0" r="1.5"/><circle cx="610.8" cy="655.3" r="1.5"/><circle cx="612.9" cy="820.8" r="1.5"/><circle cx="616.0" cy="784.3" r="1.5"/><circle cx="618.4" cy="818.1" r="1.5"/><circle cx="620.9" cy="780.7" r="1.5"/><circle cx="623.8" cy="840.7" r="1.5"/><circle cx="626.5" cy="731.5" r="1.5"/><circle cx="629.2" cy="837.8" r="1.5"/><circle cx="631.4" cy="675.9" r="1.5"/><circle cx="634.3" cy="765.1" r="1.5"/><circle cx="636.8" cy="671.7" r="1.5"/><circle cx="639.6" cy="670.4" r="1.5"/><circle cx="642.4" cy="668.9" r="1.5"/><circle cx="644.8" cy="656.1" r="1.5"/><circle cx="647.6" cy="840.7" r="1.5"/><circle cx="650.3" cy="748.0" r="1.5"/><circle cx="653.1" cy="656.2" r="1.5"/><circle cx="655.4" cy="706.4" r="1.5"/><circle cx="657.9" cy="666.9" r="1.5"/><circle cx="660.7" cy="840.7" r="1.5"/><circle cx="663.4" cy="683.3" r="1.5"/><circle cx="666.0" cy="656.8" r="1.5"/></g>
</g>
</svg>
</body></html>
